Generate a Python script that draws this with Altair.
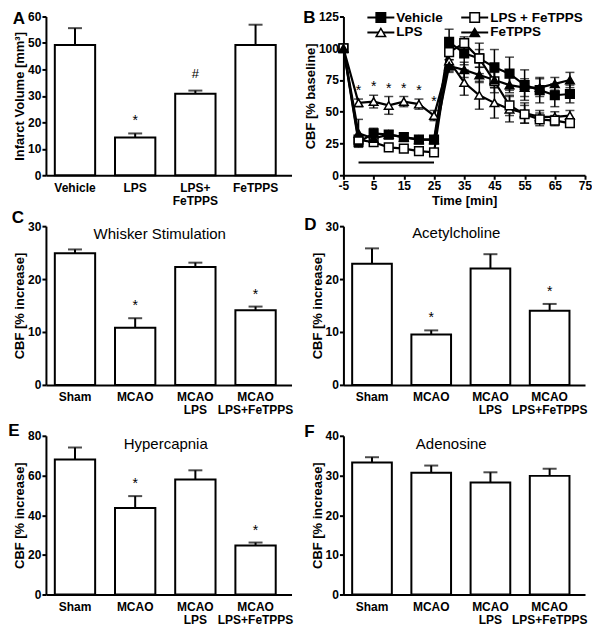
import altair as alt
import pandas as pd

FONT = "Liberation Sans"

# ---------------- Panel A: infarct volume ----------------
a_groups = ["Vehicle", "LPS", "LPS+|FeTPPS", "FeTPPS"]
a_means = [49.2, 14.3, 30.8, 49.2]
a_errs = [6.4, 1.5, 1.2, 7.7]
a_marks = ["", "*", "#", ""]

# ---------------- Panel B: CBF time course ----------------
b_time = [-5, 0, 5, 10, 15, 20, 25, 30, 35, 40, 45, 50, 55, 60, 65, 70]
b_vehicle = [100, 26, 33, 32, 30, 28, 28, 105, 96, 92, 85, 80, 71, 67, 63, 64]
b_vehicle_err = [0, 3, 4, 3, 3, 2, 2, 10, 9, 12, 14, 13, 12, 10, 9, 7]
b_lps = [100, 57, 58, 55, 58, 56, 47, 90, 73, 63, 57, 52, 49, 46, 46, 47]
b_lps_err = [0, 3, 5, 7, 4, 4, 4, 8, 10, 11, 12, 10, 8, 5, 4, 4]
b_lps_fetpps = [100, 28, 26, 22, 21, 19, 18, 97, 104, 92, 74, 55, 48, 44, 43, 41]
b_lps_fetpps_err = [0, 3, 2, 2, 2, 2, 2, 6, 5, 7, 9, 8, 7, 5, 4, 3]
b_fetpps = [100, 33, 29, 32, 30, 28, 28, 86, 83, 79, 75, 71, 69, 69, 72, 75]
b_fetpps_err = [0, 11, 4, 3, 3, 3, 3, 5, 6, 6, 6, 6, 7, 7, 5, 6]
b_star_times = [0, 5, 10, 15, 20, 25]
b_bar_start, b_bar_end, b_bar_level = 0, 25, 10
b_series = ["Vehicle", "LPS + FeTPPS", "LPS", "FeTPPS"]

# ---------------- Panels C-F: CBF responses ----------------
cf_groups = ["Sham", "MCAO", "MCAO|LPS", "MCAO|LPS+FeTPPS"]
c_means = [24.9, 10.8, 22.3, 14.1]
c_errs = [0.7, 1.8, 0.8, 0.7]
c_marks = ["", "*", "", "*"]
d_means = [22.9, 9.5, 22.0, 14.0]
d_errs = [2.9, 0.8, 2.7, 1.3]
d_marks = ["", "*", "", "*"]
e_means = [68.0, 43.6, 58.0, 24.7]
e_errs = [6.1, 6.0, 4.6, 1.5]
e_marks = ["", "*", "", "*"]
f_means = [33.3, 30.7, 28.2, 29.9]
f_errs = [1.3, 1.8, 2.6, 1.8]
f_marks = ["", "", "", ""]

WL, WR, H = 246, 242, 159

SHAPES = {"Vehicle": "square", "LPS + FeTPPS": "square",
          "LPS": "triangle-up", "FeTPPS": "triangle-up"}
FILLS = {"Vehicle": "black", "LPS + FeTPPS": "white",
         "LPS": "white", "FeTPPS": "black"}


def overlay_text(text, x, y, size, weight="normal", align="center"):
    return alt.Chart(pd.DataFrame({"t": [text]})).mark_text(
        font=FONT, fontSize=size, fontWeight=weight, color="black",
        align=align, baseline="middle"
    ).encode(text="t:N", x=alt.value(x), y=alt.value(y))


def bar_panel(letter, letter_xy, groups, means, errs, marks, ymax, ystep,
              ytitle, width, subtitle=None, sub_xy=None):
    df = pd.DataFrame({"g": groups, "m": means, "e": errs, "mk": marks})
    df["top"] = df["m"] + df["e"]
    xscale = alt.Scale(paddingInner=0.33, paddingOuter=0.205, align=0.36)
    xaxis = alt.Axis(labelAngle=0, ticks=False,
                     labelExpr="split(datum.label, '|')",
                     labelPadding=7, labelLineHeight=13,
                     labelFontSize=12, labelOverlap=False)
    yscale = alt.Scale(domain=[0, ymax], nice=False)
    yaxis = alt.Axis(values=list(range(0, ymax + 1, ystep)),
                     tickSize=4, labelPadding=1, titlePadding=1,
                     labelOverlap=False, labelBound=False)

    def gx():
        return alt.X("g:N", sort=groups, scale=xscale, axis=xaxis, title=None)

    def gy(field):
        return alt.Y(field, scale=yscale, axis=yaxis, title=ytitle)

    base = alt.Chart(df)
    bars = base.mark_bar(fill="white", stroke="black", strokeWidth=2).encode(
        x=gx(), y=gy("m:Q"))
    err = base.mark_rule(color="black", strokeWidth=2).encode(
        x=gx(), y=gy("m:Q"), y2="top:Q")
    cap = base.mark_tick(orient="horizontal", size=14, thickness=2,
                         color="black").encode(x=gx(), y=gy("top:Q"))
    star = base.transform_filter("datum.mk == '*'").mark_text(
        font=FONT, fontSize=14, color="black", baseline="middle", dy=-12
    ).encode(x=gx(), y=gy("top:Q"), text="mk:N")
    hashm = base.transform_filter("datum.mk == '#'").mark_text(
        font=FONT, fontSize=13, color="black", baseline="middle", dy=-17
    ).encode(x=gx(), y=gy("top:Q"), text="mk:N")
    layers = [bars, err, cap, star, hashm]
    if subtitle:
        layers.append(overlay_text(subtitle, sub_xy[0], sub_xy[1], 15))
    layers.append(overlay_text(letter, letter_xy[0], letter_xy[1], 17, "bold"))
    return alt.layer(*layers).properties(width=width, height=H)


# ---- Panel A ----
panel_a = bar_panel("A", (-27, 2), a_groups, a_means, a_errs, a_marks, 60, 10,
                    "Infarct Volume [mm³]", WL)

# ---- Panel B ----
rows = []
for name, vals, es in [("Vehicle", b_vehicle, b_vehicle_err),
                       ("LPS", b_lps, b_lps_err),
                       ("LPS + FeTPPS", b_lps_fetpps, b_lps_fetpps_err),
                       ("FeTPPS", b_fetpps, b_fetpps_err)]:
    for t, v, e in zip(b_time, vals, es):
        rows.append({"s": name, "t": t, "v": v, "e": e, "lo": v - e, "hi": v + e})
dfb = pd.DataFrame(rows)

bxscale = alt.Scale(domain=[-5, 75], nice=False)
byscale = alt.Scale(domain=[0, 125], nice=False)
bxaxis = alt.Axis(values=list(range(-5, 76, 10)), tickSize=4, labelPadding=1,
                  titlePadding=3, labelOverlap=False, labelFlush=False,
                  labelBound=False, labelExpr="'' + datum.value")
byaxis = alt.Axis(values=list(range(0, 126, 25)), tickSize=4, labelPadding=1,
                  titlePadding=1, labelOverlap=False, labelFlush=False,
                  labelBound=False)


def bx(field):
    return alt.X(field, scale=bxscale, axis=bxaxis, title="Time [min]")


def by(field):
    return alt.Y(field, scale=byscale, axis=byaxis, title="CBF [% baseline]")


bbase = alt.Chart(dfb)
b_lines = bbase.mark_line(color="black", strokeWidth=2.2).encode(
    x=bx("t:Q"), y=by("v:Q"), detail="s:N")
b_err = bbase.transform_filter("datum.e > 0").mark_rule(
    color="black", strokeWidth=1.5).encode(x=bx("t:Q"), y=by("lo:Q"), y2="hi:Q")
b_cap_hi = bbase.transform_filter("datum.e > 0").mark_tick(
    orient="horizontal", size=9, thickness=1.5, color="black").encode(
    x=bx("t:Q"), y=by("hi:Q"))
b_cap_lo = bbase.transform_filter("datum.e > 0").mark_tick(
    orient="horizontal", size=9, thickness=1.5, color="black").encode(
    x=bx("t:Q"), y=by("lo:Q"))
shape_scale = alt.Scale(domain=b_series, range=[SHAPES[s] for s in b_series])
fill_scale = alt.Scale(domain=b_series, range=[FILLS[s] for s in b_series])
b_pts = bbase.mark_point(filled=True, size=75, stroke="black", strokeWidth=1.5,
                         opacity=1).encode(
    x=bx("t:Q"), y=by("v:Q"),
    shape=alt.Shape("s:N", scale=shape_scale, legend=None),
    fill=alt.Fill("s:N", scale=fill_scale, legend=None))

# stars over LPS
star_rows = [{"t": t, "hi": b_lps[b_time.index(t)] + b_lps_err[b_time.index(t)],
              "mk": "*"} for t in b_star_times]
b_stars = alt.Chart(pd.DataFrame(star_rows)).mark_text(
    font=FONT, fontSize=14, color="black", baseline="middle", dy=-8).encode(
    x=bx("t:Q"), y=by("hi:Q"), text="mk:N")
b_bar = alt.Chart(pd.DataFrame({"t": [b_bar_start], "t1": [b_bar_end],
                                "v": [b_bar_level]})).mark_rule(
    color="black", strokeWidth=2).encode(x=bx("t:Q"), x2="t1:Q", y=by("v:Q"))

# key (line + marker + label), two columns x two rows
key_layers = []
for i, name in enumerate(b_series):
    col, row = i % 2, i // 2
    x0 = 24 + col * 94
    yk = 1 + row * 15
    one = alt.Chart(pd.DataFrame({"s": [name]}))
    key_layers.append(one.mark_rule(color="black", strokeWidth=2).encode(
        x=alt.value(x0), x2=alt.value(x0 + 27), y=alt.value(yk)))
    key_layers.append(one.mark_point(
        shape=SHAPES[name], filled=True, fill=FILLS[name], stroke="black",
        strokeWidth=1.5, size=90, opacity=1).encode(
        x=alt.value(x0 + 13.5), y=alt.value(yk)))
    key_layers.append(one.mark_text(
        font=FONT, fontSize=13.5, fontWeight="bold", color="black",
        align="left", baseline="middle").encode(
        text="s:N", x=alt.value(x0 + 29), y=alt.value(yk)))

panel_b = alt.layer(
    b_lines, b_err, b_cap_hi, b_cap_lo, b_pts, b_stars, b_bar, *key_layers,
    overlay_text("B", -34, 1, 17, "bold")
).properties(width=WR, height=H)

panel_c = bar_panel("C", (-28, -8), cf_groups, c_means, c_errs, c_marks, 30, 10,
                    "CBF [% increase]", WL, "Whisker Stimulation", (114, 8))
panel_d = bar_panel("D", (-33, -1), cf_groups, d_means, d_errs, d_marks, 30, 10,
                    "CBF [% increase]", WR, "Acetylcholine", (113, 7))
panel_e = bar_panel("E", (-32, -5), cf_groups, e_means, e_errs, e_marks, 80, 20,
                    "CBF [% increase]", WL, "Hypercapnia", (120, 8))
panel_f = bar_panel("F", (-34, -4), cf_groups, f_means, f_errs, f_marks, 40, 10,
                    "CBF [% increase]", WR, "Adenosine", (108, 8))

chart = alt.concat(
    panel_a, panel_b, panel_c, panel_d, panel_e, panel_f,
    columns=2, spacing={"row": 51, "column": 52}, bounds="flush"
).properties(padding=0).configure_axis(
    labelFont=FONT, titleFont=FONT, labelFontWeight="bold",
    titleFontWeight="bold", labelColor="black", titleColor="black",
    domainColor="black", tickColor="black", domainWidth=2, tickWidth=2,
    grid=False, labelFontSize=12, titleFontSize=13, labelOverlap=False,
    labelFlush=False, labelBound=False
).configure_view(stroke=None)

chart.save("out.html", embed_options={"renderer": "svg", "actions": False})
